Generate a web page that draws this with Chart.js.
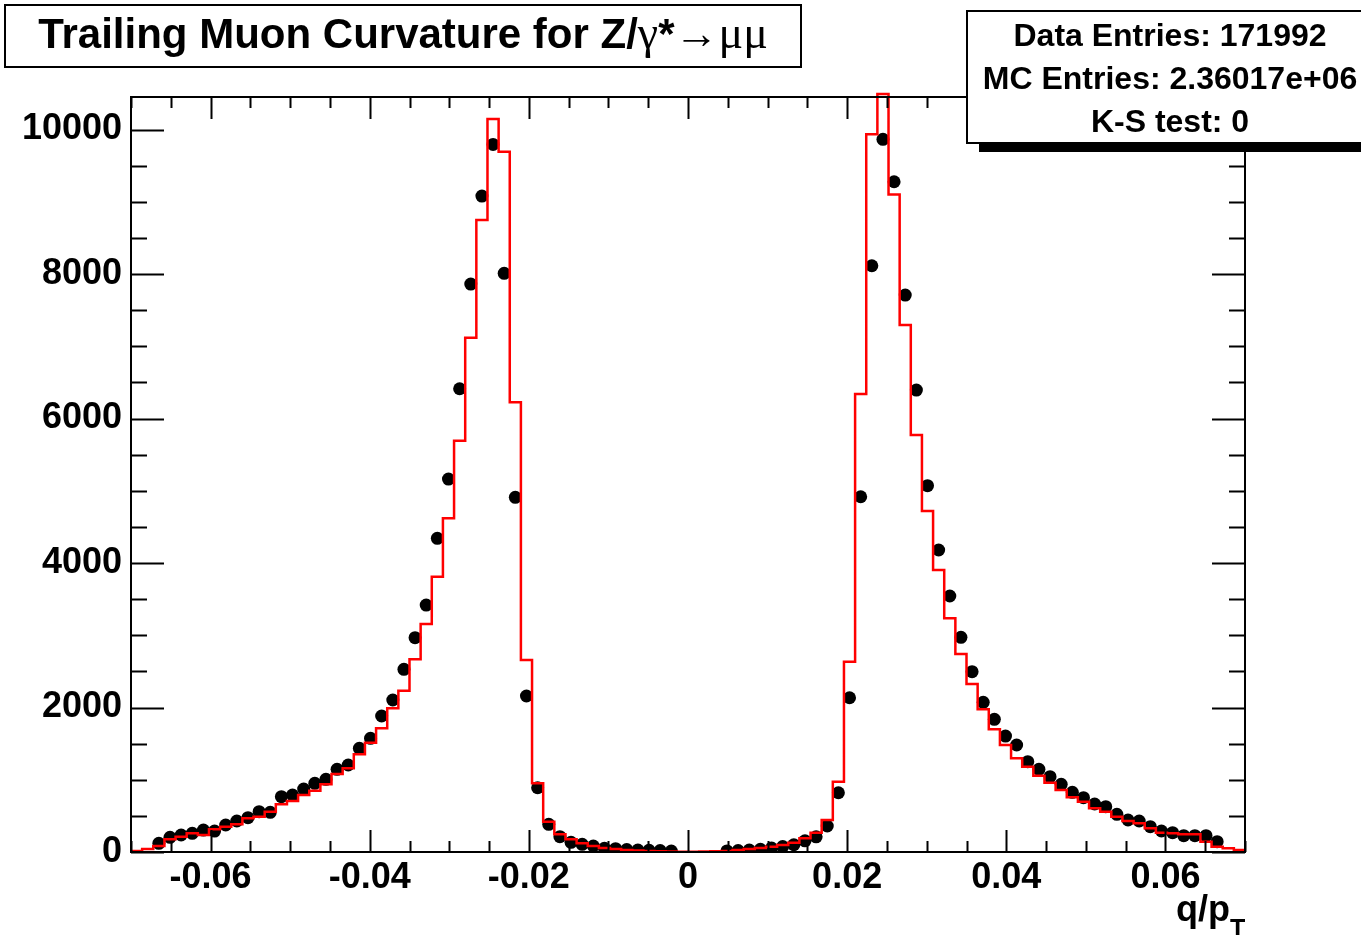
<!DOCTYPE html>
<html>
<head>
<meta charset="utf-8">
<script src="https://cdn.jsdelivr.net/npm/chart.js@4.4.1/dist/chart.umd.min.js"></script>
<style>
  html, body { margin: 0; padding: 0; background: #ffffff; }
  #wrap { width: 1361px; height: 935px; position: relative; }
</style>
</head>
<body>
<div id="wrap"><canvas id="c" width="1361" height="935"></canvas></div>
<script>
// ---- Data ----
const titleText = 'Trailing Muon Curvature for Z/';
const statsLines = ['Data Entries: 171992', 'MC Entries: 2.36017e+06', 'K-S test: 0'];
const xAxisTitle = 'q/p';
const xAxisTitleSub = 'T';

// histogram binning: 100 bins over [-0.07, 0.07]
const binLow = -0.07;
const binHigh = 0.07;
const nBins = 100;

// MC histogram contents (red step line)
const mcCounts = [
  15, 40, 83, 175, 212, 258, 235, 314, 351, 383,
  466, 489, 558, 660, 706, 789, 849, 937, 1080, 1158,
  1352, 1513, 1712, 1989, 2233, 2667, 3156, 3810, 4618, 5693,
  7118, 8747, 10145, 9692, 6224, 2657, 951, 420, 245, 176,
  120, 83, 55, 42, 28, 21, 14, 12, 8, 5,
  5, 8, 12, 14, 28, 41, 55, 73, 97, 129,
  190, 267, 443, 973, 2634, 6339, 9933, 10491, 9102, 7294,
  5771, 4719, 3903, 3234, 2740, 2325, 1975, 1698, 1481, 1297,
  1181, 1056, 959, 858, 757, 696, 605, 558, 489, 429,
  397, 328, 267, 258, 245, 245, 143, 74, 51, 28
];

// Data histogram contents (black points; null = empty bin, not drawn)
const dataCounts = [
  null, null, 120, 203, 235, 258, 304, 290, 374, 429,
  475, 558, 549, 766, 789, 872, 950, 1006, 1144, 1204,
  1435, 1573, 1882, 2104, 2529, 2966, 3418, 4341, 5162, 6412,
  7861, 9079, 9794, 8009, 4909, 2159, 889, 383, 212, 134,
  106, 83, 51, 46, 35, 28, 24, 21, 14, null,
  null, null, null, 15, 20, 28, 38, 55, 75, 100,
  155, 210, 360, 820, 2135, 4917, 8114, 9864, 9277, 7709,
  6394, 5070, 4180, 3543, 2971, 2496, 2071, 1836, 1605, 1481,
  1250, 1144, 1043, 937, 826, 752, 664, 627, 521, 443,
  429, 351, 291, 267, 226, 226, 226, 143, null, null
];

const xTickValues = [-0.06, -0.04, -0.02, 0, 0.02, 0.04, 0.06];
const xTickLabels = ['-0.06', '-0.04', '-0.02', '0', '0.02', '0.04', '0.06'];
const yTickValues = [0, 2000, 4000, 6000, 8000, 10000];
const yTickLabels = ['0', '2000', '4000', '6000', '8000', '10000'];

// ---- Build datasets ----
const binWidth = (binHigh - binLow) / nBins;
const mcPoints = mcCounts.map((v, i) => ({ x: binLow + i * binWidth, y: v }));
mcPoints.push({ x: binHigh, y: mcCounts[mcCounts.length - 1] });
const dataPoints = [];
dataCounts.forEach((v, i) => {
  if (v !== null) dataPoints.push({ x: binLow + (i + 0.5) * binWidth, y: v });
});

const SANS = "'Liberation Sans', Arial, Helvetica, sans-serif";
const SERIF = "'Liberation Serif', 'Times New Roman', serif";

const decorPlugin = {
  id: 'decor',
  afterDatasetsDraw(chart) {
    const ctx = chart.ctx;
    const xs = chart.scales.x, ys = chart.scales.y;
    const a = chart.chartArea;
    ctx.save();
    ctx.strokeStyle = '#000';
    ctx.lineWidth = 2;
    ctx.strokeRect(a.left, a.top, a.right - a.left, a.bottom - a.top);
    ctx.beginPath();
    for (let i = -14; i <= 14; i++) {
      const v = i * 0.005;
      const px = Math.round(xs.getPixelForValue(v)) + 0.5;
      const len = (i % 4 === 0) ? 22 : 11;
      ctx.moveTo(px, a.bottom); ctx.lineTo(px, a.bottom - len);
      ctx.moveTo(px, a.top); ctx.lineTo(px, a.top + len);
    }
    for (let v = 0; v <= ys.max; v += 500) {
      const py = Math.round(ys.getPixelForValue(v)) + 0.5;
      const len = (v % 2000 === 0) ? 33 : 16;
      ctx.moveTo(a.left, py); ctx.lineTo(a.left + len, py);
      ctx.moveTo(a.right, py); ctx.lineTo(a.right - len, py);
    }
    ctx.stroke();
    ctx.restore();
  },
  afterDraw(chart) {
    const ctx = chart.ctx;
    ctx.save();
    // ---- title box ----
    ctx.fillStyle = '#fff';
    ctx.fillRect(5, 5, 796, 62);
    ctx.strokeStyle = '#000';
    ctx.lineWidth = 2;
    ctx.strokeRect(5, 5, 796, 62);
    const segs = [
      { t: titleText, f: 'bold 42px ' + SANS },
      { t: 'γ', f: '46px ' + SERIF },
      { t: '*', f: 'bold 42px ' + SANS },
      { t: '→', f: '44px ' + SERIF },
      { t: 'μμ', f: '46px ' + SERIF }
    ];
    let total = 0;
    segs.forEach(s => { ctx.font = s.f; s.w = ctx.measureText(s.t).width; total += s.w; });
    let x = 403 - total / 2;
    ctx.fillStyle = '#000';
    ctx.textBaseline = 'alphabetic';
    ctx.textAlign = 'left';
    segs.forEach(s => { ctx.font = s.f; ctx.fillText(s.t, x, 48); x += s.w; });

    // ---- stats box ----
    ctx.fillStyle = '#000';
    ctx.fillRect(979, 143, 400, 9);
    ctx.fillStyle = '#fff';
    ctx.fillRect(967, 11, 410, 132);
    ctx.strokeStyle = '#000';
    ctx.lineWidth = 2;
    ctx.strokeRect(967, 11, 410, 132);
    ctx.fillStyle = '#000';
    ctx.font = 'bold 32px ' + SANS;
    ctx.textAlign = 'center';
    const base = [46, 89, 132];
    statsLines.forEach((l, i) => ctx.fillText(l, 1170, base[i]));

    // ---- x axis title ----
    ctx.textAlign = 'right';
    ctx.font = 'bold 36px ' + SANS;
    ctx.fillText(xAxisTitle, 1230, 921);
    ctx.textAlign = 'left';
    ctx.font = 'bold 25px ' + SANS;
    ctx.fillText(xAxisTitleSub, 1230, 937);
    ctx.restore();
  }
};

new Chart(document.getElementById('c'), {
  type: 'scatter',
  data: {
    datasets: [
      {
        label: 'MC',
        type: 'line',
        data: mcPoints,
        showLine: true,
        stepped: 'before',
        borderColor: '#ff0000',
        borderWidth: 2.5,
        pointRadius: 0,
        fill: false,
        clip: false,
        order: 0
      },
      {
        label: 'Data',
        data: dataPoints,
        showLine: false,
        pointRadius: 6.5,
        pointBackgroundColor: '#000',
        pointBorderColor: '#000',
        pointBorderWidth: 0,
        order: 1
      }
    ]
  },
  options: {
    responsive: false,
    animation: false,
    devicePixelRatio: 1,
    layout: { padding: { left: 0, top: 97, right: 116, bottom: 0 } },
    plugins: { legend: { display: false }, title: { display: false }, tooltip: { enabled: false } },
    scales: {
      x: {
        type: 'linear',
        min: binLow,
        max: binHigh,
        grid: { display: false, drawTicks: false },
        border: { display: false },
        afterBuildTicks: s => { s.ticks = xTickValues.map(v => ({ value: v })); },
        afterFit: s => { s.height = 83; },
        ticks: {
          padding: 4,
          color: '#000',
          maxRotation: 0,
          autoSkip: false,
          font: { family: SANS, size: 36, weight: 'bold' },
          callback: (v, i) => xTickLabels[i]
        }
      },
      y: {
        type: 'linear',
        min: 0,
        max: 10450,
        grid: { display: false, drawTicks: false },
        border: { display: false },
        afterBuildTicks: s => { s.ticks = yTickValues.map(v => ({ value: v })); },
        afterFit: s => { s.width = 131; },
        ticks: {
          padding: 9,
          color: '#000',
          autoSkip: false,
          font: { family: SANS, size: 36, weight: 'bold' },
          callback: (v, i) => yTickLabels[i]
        }
      }
    }
  },
  plugins: [decorPlugin]
});
</script>
</body>
</html>
